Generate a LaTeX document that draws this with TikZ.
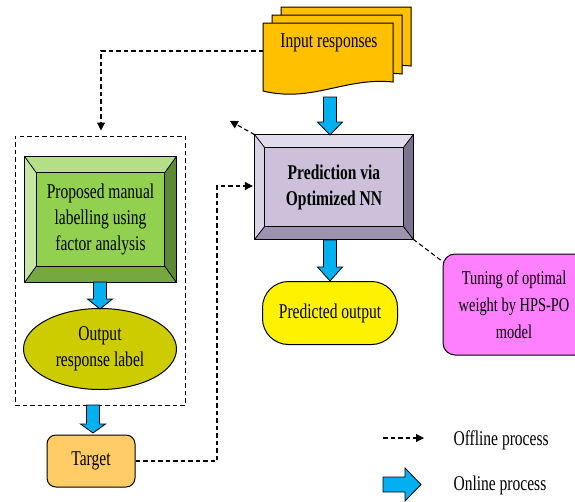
\documentclass[tikz,border=0pt]{standalone}
\usepackage{fontspec}
\setmainfont{Liberation Serif}[FakeStretch=0.74]
\usetikzlibrary{arrows.meta,calc,shapes.geometric}
\definecolor{docgold}{HTML}{FFC000}
\definecolor{bluearr}{HTML}{00B0F0}
\definecolor{pface}{HTML}{CCC0DA}
\definecolor{ptop}{HTML}{E2DBEB}
\definecolor{pleft}{HTML}{DAD2E5}
\definecolor{pright}{HTML}{7D7290}
\definecolor{pbot}{HTML}{9D93AE}
\definecolor{gface}{HTML}{92D050}
\definecolor{gtop}{HTML}{B3DF87}
\definecolor{gleft}{HTML}{C6E6A3}
\definecolor{gright}{HTML}{5B8A32}
\definecolor{gbot}{HTML}{76A83F}
\definecolor{olive}{HTML}{CCCC00}
\definecolor{tpink}{HTML}{FF80FF}
\definecolor{targ}{HTML}{FFCC66}
\newcommand\bevelbox[7]{% name, bx, by, top, left, right, bottom
  \fill[#4] (#1.north west) -- (#1.north east) -- ($(#1.north east)+(-#2,#3)$) -- ($(#1.north west)+(#2,#3)$) -- cycle;
  \fill[#5] (#1.north west) -- ($(#1.north west)+(#2,#3)$) -- ($(#1.south west)+(#2,-#3)$) -- (#1.south west) -- cycle;
  \fill[#6] (#1.north east) -- ($(#1.north east)+(-#2,#3)$) -- ($(#1.south east)+(-#2,-#3)$) -- (#1.south east) -- cycle;
  \fill[#7] (#1.south west) -- ($(#1.south west)+(#2,-#3)$) -- ($(#1.south east)+(-#2,-#3)$) -- (#1.south east) -- cycle;
  \draw[line width=0.8pt] ($(#1.north west)+(#2,#3)$) rectangle ($(#1.south east)+(-#2,-#3)$);
  \draw[line width=0.8pt] (#1.north west) -- ($(#1.north west)+(#2,#3)$)
    (#1.north east) -- ($(#1.north east)+(-#2,#3)$)
    (#1.south west) -- ($(#1.south west)+(#2,-#3)$)
    (#1.south east) -- ($(#1.south east)+(-#2,-#3)$);
  \draw[line width=1pt] (#1.north west) rectangle (#1.south east);
}
% vertical block arrow: x, ytop, yheadstart, ytip
\newcommand\blockdown[4]{%
  \draw[fill=bluearr,line width=0.8pt] ($(#1,#2)+(-6.5,0)$) -- ($(#1,#3)+(-6.5,0)$) -- ($(#1,#3)+(-12.5,0)$) -- (#1,#4)
    -- ($(#1,#3)+(12.5,0)$) -- ($(#1,#3)+(6.5,0)$) -- ($(#1,#2)+(6.5,0)$) -- cycle;}
\tikzset{
  txt/.style={font=\fontsize{21pt}{26pt}\selectfont, align=center, text=black},
  dashline/.style={line width=1.1pt, dash pattern=on 4.5pt off 3pt},
  dasharrow/.style={dashline, -{Triangle[length=8pt,width=8pt]}},
  docshape/.style={fill=docgold, draw=black, line width=1pt},
}
\begin{document}
\begin{tikzpicture}[x=1pt,y=-1pt]
\useasboundingbox (0,0) rectangle (575,501);
\clip (0,0) rectangle (575,501);
% ---- input responses (multi document)
\foreach \dx/\dy in {18/-16, 9/-8, 0/0}{
  \draw[docshape, shift={(\dx,\dy)}] (263,23) -- (393,23) -- (393,82)
    .. controls (345,77) and (312,103) .. (263,91) -- cycle;
}
\node[txt] (inp) at (329,43) {Input responses};
\coordinate (inL) at (263,51);
% ---- prediction box
\node[fill=pface, minimum width=158pt, minimum height=104pt, inner sep=0pt] (pred) at (334,187) {};
\bevelbox{pred}{10}{13}{ptop}{pleft}{pright}{pbot}
\node[txt, font=\fontsize{21pt}{26pt}\selectfont\bfseries] at (pred) {Prediction via\\Optimized NN};
% ---- predicted output
\node[fill=yellow, draw=black, line width=1pt, rounded corners=26pt, minimum width=135pt, minimum height=63pt, inner sep=0pt] (pout) at (330,313) {};
\node[txt] at (pout) {Predicted output};
% ---- tuning
\node[fill=tpink, draw=black, line width=1pt, rounded corners=12pt, minimum width=144pt, minimum height=101pt, inner sep=0pt] (tune) at (515,304.5) {};
\node[txt, font=\fontsize{19.5pt}{27pt}\selectfont] at (514,305) {Tuning of optimal\\weight by HPS-PO\\model};
% ---- left dashed group
\node[draw, dashline, line width=1pt, minimum width=170pt, minimum height=269pt, inner sep=0pt] (grp) at (100,270.5) {};
\node[fill=gface, minimum width=151pt, minimum height=125pt, inner sep=0pt] (green) at (100.5,219.5) {};
\bevelbox{green}{11.5}{16}{gtop}{gleft}{gright}{gbot}
\node[txt] at (green) {Proposed manual\\labelling using\\factor analysis};
\node[ellipse, fill=olive, draw=black, line width=1pt, minimum width=153pt, minimum height=81pt, inner sep=0pt] (lab) at (100,349) {};
\node[txt] at (lab) {Output\\response label};
% ---- target
\node[fill=targ, draw=black, line width=1pt, rounded corners=9pt, minimum width=88pt, minimum height=52pt, inner sep=0pt] (target) at (91,461) {};
\node[txt] at (target) {Target};
% ---- block arrows
\blockdown{330}{97}{122}{135}
\blockdown{330}{240}{267}{281}
\blockdown{100}{282}{299}{309}
\blockdown{93}{405}{424}{433}
% ---- dashed connectors
\draw[dasharrow] (inL) -| ($(grp.north)+(1,-5)$);
\draw[dasharrow] (target.east) -- (217,461) |- ($(pred.west)+(-2,-1)$);
\draw[dasharrow] (pred.north west) -- ++(-25,-14);
\draw[dashline] (pred.south east) -- ($(tune.north west)+(0,8)$);
% ---- legend
\coordinate (lg1) at (383,438);
\coordinate (lg1e) at (424,438);
\draw[dasharrow] (lg1) -- (lg1e);
\node[txt, anchor=west] (off) at (450,440) {Offline process};
\draw[fill=bluearr, line width=0.8pt] (383,477) -- (405,477) -- (405,468) -- (421,484.5) -- (405,501) -- (405,492) -- (383,492) -- cycle;
\node[txt, anchor=west] (on) at (450,485) {Online process};
\end{tikzpicture}
\end{document}
